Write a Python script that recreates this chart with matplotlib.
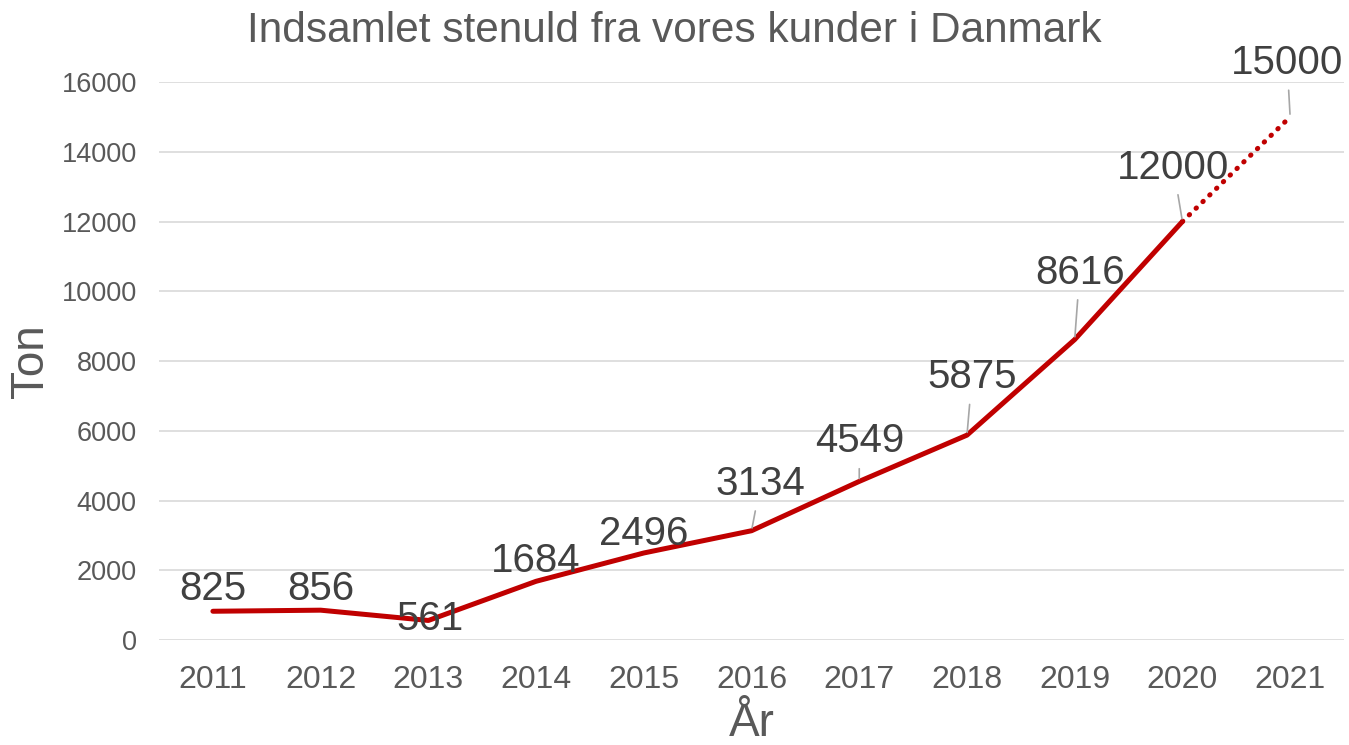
import matplotlib
matplotlib.use("Agg")
import matplotlib.pyplot as plt

# data
years = ["2011", "2012", "2013", "2014", "2015", "2016", "2017", "2018", "2019", "2020", "2021"]
tons = [825, 856, 561, 1684, 2496, 3134, 4549, 5875, 8616, 12000, 15000]
n_actual = 10  # 2011-2020 measured, 2021 is the forecast (dotted)

# label offsets in pixels (dx, dy to baseline), and whether a leader line is drawn
label_dx = [0, 0, 2, 0, 0, 9, 0, 5, 5, -9, -3]
label_dy = [11, 10, -10, 9, 8, 36, 29, 47, 56, 43, 43]
leader = [False, False, False, False, False, True, True, True, True, True, True]

plt.rcParams['font.family'] = ['Liberation Sans', 'DejaVu Sans']
grey = '#595959'
red = '#C00000'

fig = plt.figure(figsize=(13.49, 7.45), dpi=100)
ax = fig.add_axes([0.1179, 0.1409, 0.8784, 0.749])

x = list(range(len(years)))
ax.plot(x[:n_actual], tons[:n_actual], color=red, lw=3.6, solid_capstyle='round',
        solid_joinstyle='round', zorder=3)
ax.plot(x[n_actual - 1:], tons[n_actual - 1:], color=red, lw=3.6,
        linestyle=(0, (0.1, 1.8)), dash_capstyle='round', zorder=3)

for i in range(len(years)):
    props = None
    if leader[i]:
        props = dict(arrowstyle='-', color='#a6a6a6', lw=1.2, shrinkA=4, shrinkB=2)
    ax.annotate(str(tons[i]), (x[i], tons[i]), xytext=(label_dx[i], label_dy[i]),
                textcoords='offset pixels', ha='center', va='baseline',
                fontsize=29, color='#404040', arrowprops=props, zorder=4)

ax.set_xlim(-0.5, len(years) - 0.5)
ax.set_ylim(0, 16000)
ax.set_yticks(range(0, 16001, 2000))
ax.set_xticks(x)
ax.set_xticklabels(years)
ax.tick_params(axis='x', length=0, labelsize=23, labelcolor=grey, pad=18)
ax.tick_params(axis='y', length=0, labelsize=19.5, labelcolor=grey, pad=16)
ax.grid(axis='y', color='#d9d9d9', lw=1.2)
ax.set_axisbelow(True)
for s in ax.spines.values():
    s.set_visible(False)

ax.set_ylabel("Ton", fontsize=33, color=grey, labelpad=6)
ax.set_xlabel("År", fontsize=33, color=grey, labelpad=5)
fig.text(0.5, 0.985, "Indsamlet stenuld fra vores kunder i Danmark", ha='center',
         va='top', fontsize=30.5, color=grey)

fig.savefig("out.png", dpi=100)
